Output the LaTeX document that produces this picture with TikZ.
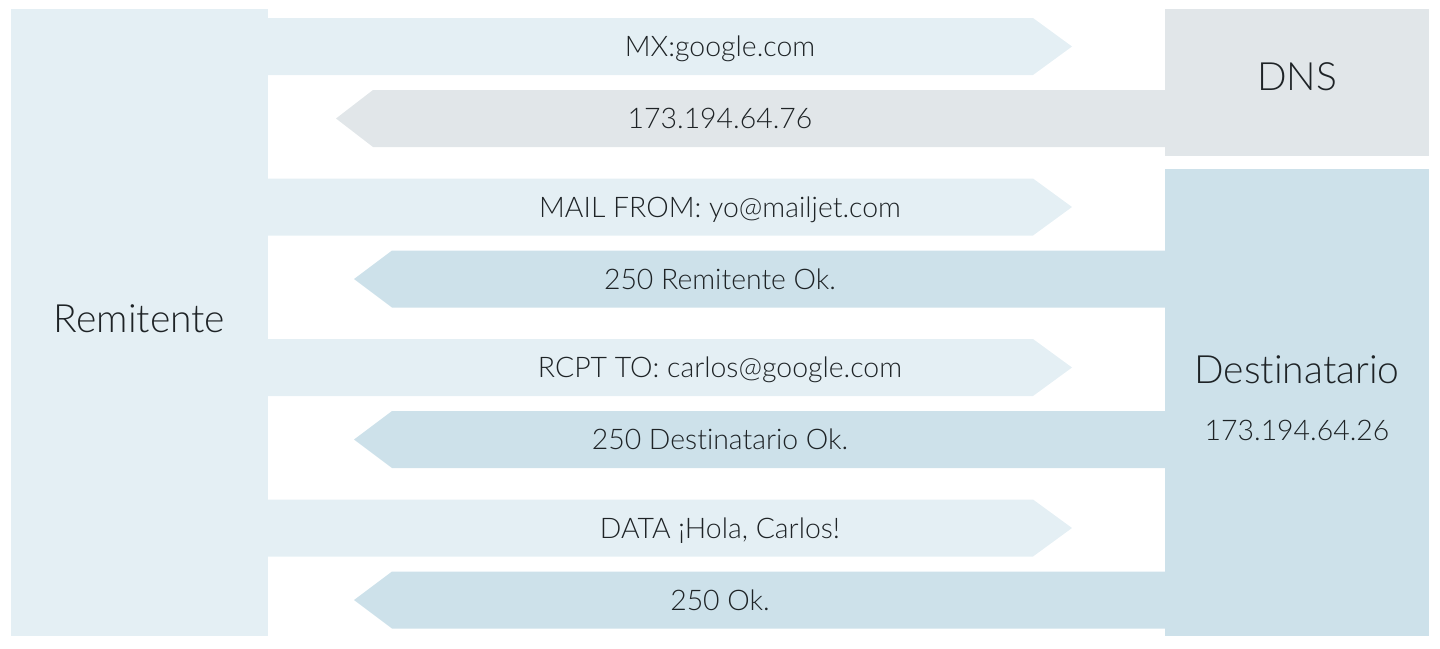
\documentclass[tikz,border=0pt]{standalone}
\usepackage{fontspec}
\setmainfont{Lato}[UprightFont=* Light,Ligatures=NoCommon]
\usepackage{tikz}

\definecolor{envio}{HTML}{E4EFF4}
\definecolor{dnsgris}{HTML}{E1E6E9}
\definecolor{resp}{HTML}{CDE1EA}
\definecolor{tinta}{HTML}{1E2326}

\begin{document}
\begin{tikzpicture}[x=0.5pt,y=-0.5pt,
        msg/.style={text=tinta,anchor=base,font=\fontsize{14.2}{16}\selectfont},
        big/.style={text=tinta,anchor=base,font=\fontsize{19.5}{22}\selectfont}]

        \useasboundingbox (0,0) rectangle (1440,648);

        % cajas
        \fill[envio] (11,9) rectangle (268,636);
        \fill[dnsgris] (1165,9) rectangle (1429,156);
        \fill[resp] (1165,169) rectangle (1429,636);

        \node[big] (R) at (139.5,332) {Remitente};
        \node[big] (D) at (1297,90) {DNS};
        \node[big] (T) at (1297,383) {Destinatario};
        \node[msg] (ip) at (1297,440) {173.194.64.26};

        % envios
        \foreach \y/\txt [count=\i] in {18/{MX:google.com},178.5/{MAIL FROM: yo@mailjet.com},
            339/{RCPT TO: carlos@google.com},499.5/{DATA ¡Hola, Carlos!}}
            { \fill[envio] (268,\y) -- (1033,\y) -- (1072,\y+28.5) -- (1033,\y+57) -- (268,\y+57) -- cycle;
              \node[msg] (s\i) at (720,\y+38.5) {\txt};}

        % respuestas
        \fill[dnsgris] (1165,90) -- (373,90) -- (336,118.5) -- (373,147) -- (1165,147) -- cycle;
        \node[msg] (a1) at (720,128.5) {173.194.64.76};
        \foreach \y/\txt [count=\i from 2] in {250.5/{250 Remitente Ok.},411/{250 Destinatario Ok.},571.5/{250 Ok.}}
            { \fill[resp] (1165,\y) -- (392,\y) -- (354,\y+28.5) -- (392,\y+57) -- (1165,\y+57) -- cycle;
              \node[msg] (a\i) at (720,\y+38.5) {\txt};}
    \end{tikzpicture}
\end{document}
